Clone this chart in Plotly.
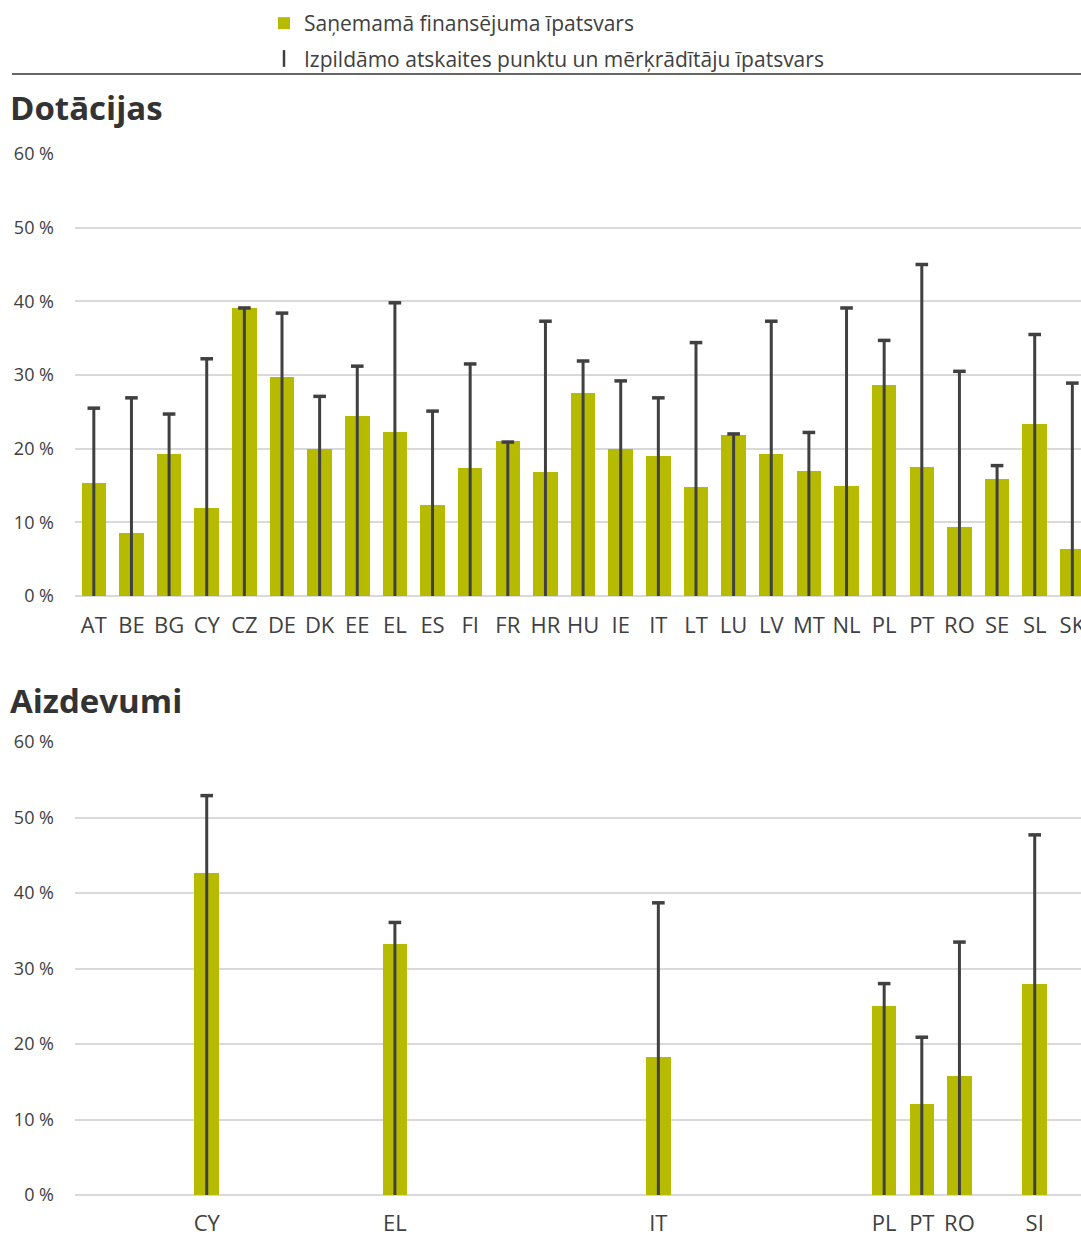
import plotly.graph_objects as go

# Member-state codes (grant panel order)
countries = ["AT", "BE", "BG", "CY", "CZ", "DE", "DK", "EE", "EL", "ES", "FI", "FR", "HR", "HU",
             "IE", "IT", "LT", "LU", "LV", "MT", "NL", "PL", "PT", "RO", "SE", "SL", "SK"]

# Grants: share of funding receivable (bars) and share of milestones/targets to fulfil (lines)
grant_funding = [15.3, 8.5, 19.3, 11.9, 39.1, 29.7, 19.9, 24.5, 22.2, 12.3, 17.4, 21.1, 16.9, 27.5,
                 19.9, 19.0, 14.8, 21.8, 19.3, 17.0, 15.0, 28.6, 17.5, 9.3, 15.9, 23.3, 6.4]
grant_targets = [25.5, 26.9, 24.7, 32.2, 39.1, 38.4, 27.1, 31.2, 39.8, 25.1, 31.5, 20.9, 37.3, 31.9,
                 29.2, 26.9, 34.4, 22.0, 37.3, 22.2, 39.1, 34.7, 45.0, 30.5, 17.7, 35.5, 28.9]

# Loans panel: slot order on the axis and the member states with loan data
loan_axis = ["AT", "BE", "BG", "CY", "CZ", "DE", "DK", "EE", "EL", "ES", "FI", "FR", "HR", "HU",
             "IE", "IT", "LT", "LU", "LV", "MT", "NL", "PL", "PT", "RO", "SE", "SI", "SK"]
loan_countries = ["CY", "EL", "IT", "PL", "PT", "RO", "SI"]
loan_funding = [42.6, 33.3, 18.3, 25.1, 12.1, 15.7, 28.0]
loan_targets = [52.9, 36.1, 38.7, 28.0, 20.9, 33.5, 47.7]

y_ticks = [0, 10, 20, 30, 40, 50, 60]
y_ticktext = [f"{v} %" for v in y_ticks]

GREEN = "#B7BB00"
DARK = "#404040"
GRID = "#D9D9D9"
FONT = "Open Sans"
W, H = 1081, 1235

grant_x = list(range(len(countries)))
loan_x = [loan_axis.index(c) for c in loan_countries]


def stems(xs, ys):
    """Vertical segments from 0 up to each target value."""
    sx, sy = [], []
    for x, y in zip(xs, ys):
        sx += [x, x, None]
        sy += [0, y, None]
    return sx, sy


fig = go.Figure()

# --- Grants panel ---
fig.add_trace(go.Bar(x=grant_x, y=grant_funding, marker=dict(color=GREEN, line_width=0),
                     width=0.65, name="Saņemamā finansējuma īpatsvars", legendgroup="funding",
                     xaxis="x", yaxis="y", showlegend=True, legendrank=1))
sx, sy = stems(grant_x, grant_targets)
fig.add_trace(go.Scatter(x=sx, y=sy, mode="lines", line=dict(color=DARK, width=3),
                         xaxis="x", yaxis="y", showlegend=False, hoverinfo="skip"))
fig.add_trace(go.Scatter(x=grant_x, y=grant_targets, mode="markers",
                         marker=dict(symbol="line-ew", size=9, line=dict(color=DARK, width=3.5)),
                         xaxis="x", yaxis="y", showlegend=False))

# --- Loans panel ---
fig.add_trace(go.Bar(x=loan_x, y=loan_funding, marker=dict(color=GREEN, line_width=0),
                     width=0.65, xaxis="x2", yaxis="y2", showlegend=False))
sx, sy = stems(loan_x, loan_targets)
fig.add_trace(go.Scatter(x=sx, y=sy, mode="lines", line=dict(color=DARK, width=3),
                         xaxis="x2", yaxis="y2", showlegend=False, hoverinfo="skip"))
fig.add_trace(go.Scatter(x=loan_x, y=loan_targets, mode="markers",
                         marker=dict(symbol="line-ew", size=9, line=dict(color=DARK, width=3.5)),
                         xaxis="x2", yaxis="y2", showlegend=False))

# legend key for the target lines
fig.add_trace(go.Scatter(x=[None], y=[None], mode="markers",
                         name="Izpildāmo atskaites punktu un mērķrādītāju īpatsvars",
                         legendgroup="targets",
                         marker=dict(symbol="line-ns", size=12, line=dict(color=DARK, width=2.5)),
                         xaxis="x", yaxis="y", showlegend=True, legendrank=2))

x_range = [-0.5, 26.23]
x_dom = [75 / W, 1.0]
common_x = dict(type="linear", range=x_range, domain=x_dom, showgrid=False, zeroline=False,
                showline=False, ticks="", tickangle=0, ticklabeloverflow="allow",
                tickfont=dict(family=FONT, size=22, color=DARK),
                automargin=False, ticklabelstandoff=14, fixedrange=True)
common_y = dict(range=[0, 60], tickvals=y_ticks, ticktext=y_ticktext, showgrid=True,
                gridcolor=GRID, gridwidth=2, zeroline=True, zerolinecolor=GRID, zerolinewidth=2,
                showline=False, ticks="", tickfont=dict(family=FONT, size=18, color=DARK),
                automargin=False, ticklabelstandoff=20, fixedrange=True)

fig.update_layout(
    width=W, height=H,
    margin=dict(l=0, r=0, t=0, b=0, autoexpand=False),
    paper_bgcolor="white", plot_bgcolor="white",
    font=dict(family=FONT, color=DARK),
    bargap=0,
    xaxis=dict(common_x, anchor="y", tickvals=grant_x, ticktext=countries),
    yaxis=dict(common_y, anchor="x", domain=[1 - 596 / H, 1 - 154 / H]),
    xaxis2=dict(common_x, anchor="y2", tickvals=loan_x, ticktext=loan_countries,
                ticklabelstandoff=13),
    yaxis2=dict(common_y, anchor="x2", domain=[1 - 1195 / H, 1 - 742 / H]),
    legend=dict(x=264 / W, y=1 - 3 / H,
                xanchor="left", yanchor="top", font=dict(family=FONT, size=21, color=DARK),
                bgcolor="rgba(0,0,0,0)", traceorder="grouped", itemwidth=30,
                tracegroupgap=5),
    showlegend=True,
    annotations=[
        dict(text="<b>Dotācijas</b>", xref="paper", yref="paper", x=8 / W, y=1 - 107 / H,
             xanchor="left", yanchor="middle", showarrow=False,
             font=dict(family=FONT, size=33, color="#333333")),
        dict(text="<b>Aizdevumi</b>", xref="paper", yref="paper", x=8 / W, y=1 - 700 / H,
             xanchor="left", yanchor="middle", showarrow=False,
             font=dict(family=FONT, size=33, color="#333333")),
    ],
    shapes=[
        dict(type="line", xref="paper", yref="paper", x0=12 / W, x1=1.0,
             y0=1 - 74 / H, y1=1 - 74 / H, line=dict(color="#333333", width=1.5)),
    ],
)

fig.write_html("out.html")
